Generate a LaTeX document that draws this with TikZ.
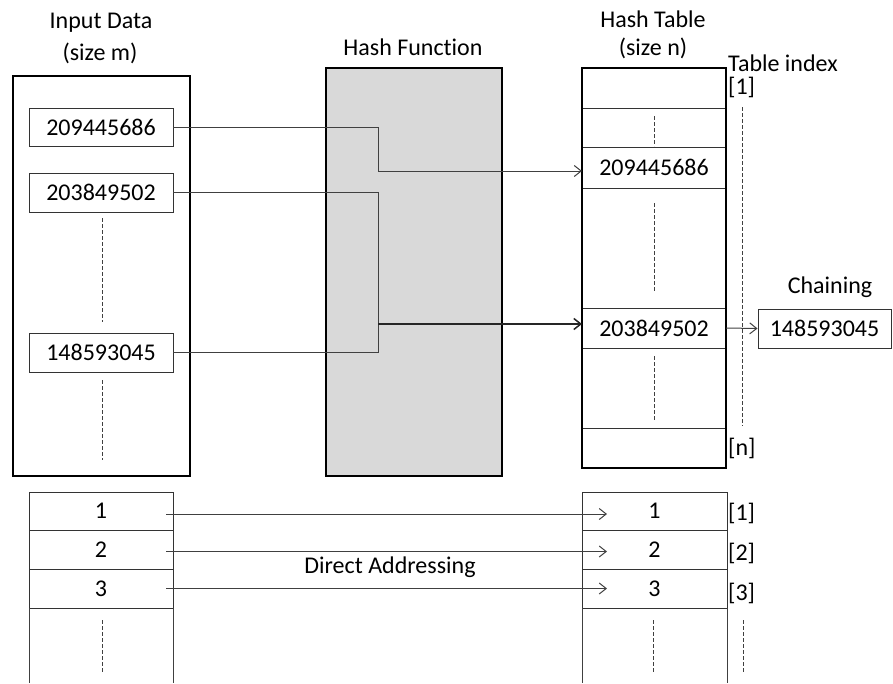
\documentclass[tikz,border=0pt]{standalone}
\usepackage{fontspec}
\setmainfont{Carlito}[Ligatures=NoCommon]
\usetikzlibrary{arrows.meta,calc}
\begin{document}
\begin{tikzpicture}[x=1pt,y=-1pt,
  every node/.style={font=\fontsize{24}{28}\selectfont, text=black},
  txt/.style={inner sep=0pt},
  thickbox/.style={draw=black, line width=2.6pt, inner sep=0pt, outer sep=0pt},
  cell/.style={draw=black!80, line width=1pt, inner sep=0pt, outer sep=0pt, minimum width=144pt},
  conn/.style={draw=black!75, line width=1pt},
  arr/.style={conn, -{Straight Barb[length=7pt,width=11pt]}},
  dsh/.style={draw=black!75, line width=0.9pt, dash pattern=on 3.5pt off 2.5pt}
]
\useasboundingbox (0,0) rectangle (893,683);

% ---------- titles ----------
\node[txt] (tin1) at (101,23) {Input Data};
\node[txt] (tin2) at (100,53) {(size m)};
\node[txt] (thf) at (413,47) {Hash Function};
\node[txt] (tht1) at (653,19) {Hash Table};
\node[txt] (tht2) at (653,48) {(size n)};
\node[txt, anchor=west] (tidx) at (728,63) {Table index};
\node[txt, anchor=west] (i1) at (728,87) {[1]};
\node[txt, anchor=west] (in) at (728,448) {[n]};
\node[txt] (tch) at (830,287) {Chaining};

% ---------- input data ----------
\node[thickbox, minimum width=177pt, minimum height=400pt] (inp) at (101.5,276) {};
\node[cell, minimum height=38pt] (in1) at (101,127) {209445686};
\node[cell, minimum height=39pt] (in2) at (101,192.5) {203849502};
\node[cell, minimum height=39pt] (in3) at (101,352.5) {148593045};
\draw[dsh] (102,218) -- (102,322);
\draw[dsh] (102,380) -- (102,460);

% ---------- hash function ----------
\node[thickbox, fill=black!15, minimum width=176pt, minimum height=408pt] (hf) at (414,272) {};

% ---------- hash table ----------
\node[cell, minimum height=40pt] (r1) at (654,88) {};
\node[cell, minimum height=39pt] (r2) at (654,127.5) {};
\node[cell, minimum height=41pt] (r3) at (654,167.5) {209445686};
\node[cell, minimum height=120pt] (r4) at (654,248) {};
\node[cell, minimum height=40pt] (r5) at (654,328) {203849502};
\node[cell, minimum height=80pt] (r6) at (654,388) {};
\node[cell, minimum height=40pt] (r7) at (654,448) {};
\node[thickbox, minimum width=144pt, minimum height=400pt] (ht) at (654,268) {};
\draw[dsh] (654,116) -- (654,146);
\draw[dsh] (654,203) -- (654,292);
\draw[dsh] (654,356) -- (654,420);
\draw[dsh] (742,107) -- (742,426);

% ---------- chaining ----------
\node[draw=black!80, line width=1pt, inner sep=0pt, minimum width=133pt, minimum height=39pt] (ch) at (824.5,328.5) {148593045};
\draw[arr] (r5.east) -- (ch.west);

% ---------- hash connectors ----------
\coordinate (m1) at (378,171);
\coordinate (m2) at (378,324);
\draw[conn] (in1.east) -| (m1);
\draw[arr] (m1) -- (ht.west |- m1);
\draw[conn] (in2.east) -| (m2);
\draw[conn] (in3.east) -| (m2);
\draw[arr, line width=1.5pt, draw=black!85] (m2) -- (ht.west |- m2);

% ---------- direct addressing ----------
\node[cell, minimum height=38pt] (b1) at (101,511) {1};
\node[cell, minimum height=39pt] (b2) at (101,549.5) {2};
\node[cell, minimum height=39pt] (b3) at (101,588.5) {3};
\draw[conn] (b3.south west) -- (29,683);
\draw[conn] (b3.south east) -- (173,683);
\draw[dsh] (102,620) -- (102,673);

\node[cell, minimum width=145pt, minimum height=38pt] (d1) at (654.5,511) {1};
\node[cell, minimum width=145pt, minimum height=39pt] (d2) at (654.5,549.5) {2};
\node[cell, minimum width=145pt, minimum height=39pt] (d3) at (654.5,588.5) {3};
\draw[conn] (d3.south west) -- (582,683);
\draw[conn] (d3.south east) -- (727,683);
\draw[dsh] (653,620) -- (653,673);
\draw[dsh] (743,620) -- (743,673);

\node[txt, anchor=west] (k1) at (728,513) {[1]};
\node[txt, anchor=west] (k2) at (728,553) {[2]};
\node[txt, anchor=west] (k3) at (728,593) {[3]};

\draw[arr] ([xshift=-7pt,yshift=-3pt]b1.east) -- ([xshift=25pt,yshift=-3pt]d1.west);
\draw[arr] ([xshift=-7pt,yshift=-2pt]b2.east) -- ([xshift=25pt,yshift=-2pt]d2.west);
\draw[arr] ([xshift=-7pt,yshift=0pt]b3.east) -- ([xshift=25pt,yshift=0pt]d3.west);
\node[txt] (da) at (390,567) {Direct Addressing};
\end{tikzpicture}
\end{document}
